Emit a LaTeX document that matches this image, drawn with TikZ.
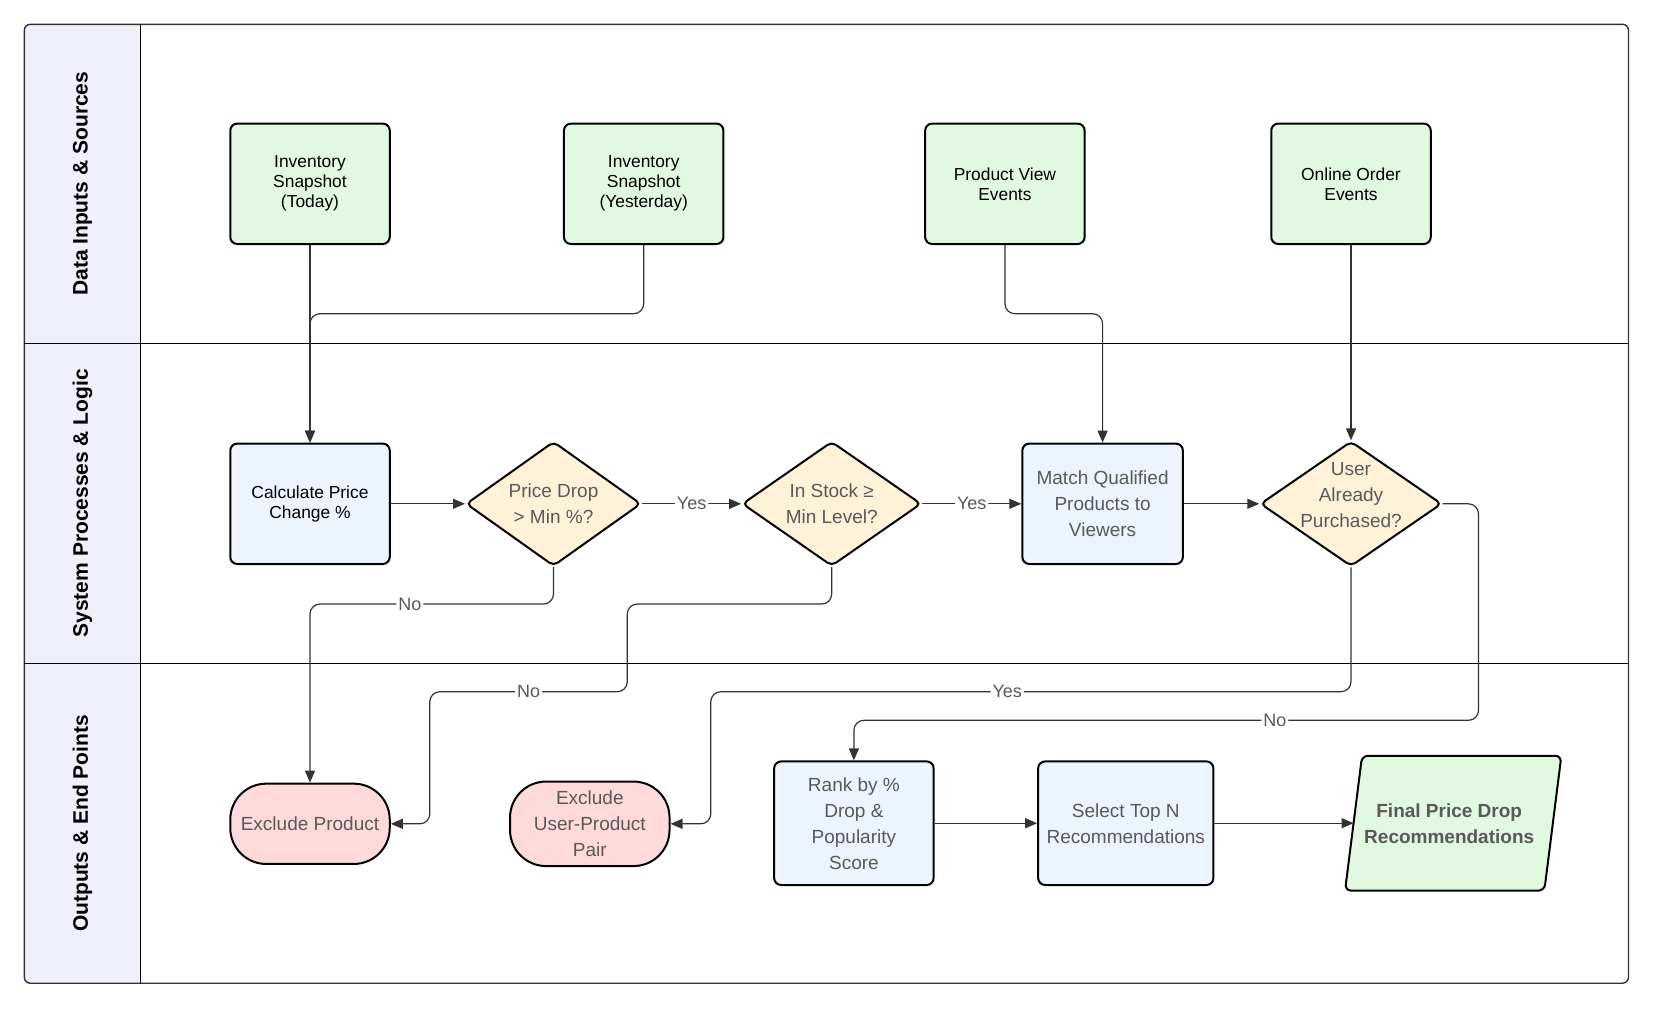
\documentclass[tikz,border=0pt]{standalone}
\usepackage{fontspec}
\setmainfont{Liberation Sans}
\usetikzlibrary{shapes.geometric,arrows.meta,calc,backgrounds}
\definecolor{lanebg}{HTML}{F0F0FC}
\definecolor{grn}{HTML}{E1F8E1}
\definecolor{blu}{HTML}{EBF4FF}
\definecolor{crm}{HTML}{FFF2D9}
\definecolor{pnk}{HTML}{FFDADA}
\definecolor{txtg}{HTML}{595959}
\definecolor{edgec}{HTML}{333333}
\begin{document}
\begin{tikzpicture}[x=0.5pt,y=-0.5pt,
  box/.style={draw=black, line width=1pt, rounded corners=3.5pt, inner sep=2pt, align=center},
  blk/.style={font=\fontsize{8.7}{10}\selectfont, text=black},
  gry/.style={font=\fontsize{9.5}{13}\selectfont, text=txtg},
  srcbox/.style={box, blk, fill=grn, minimum width=79.75pt, minimum height=60.2pt},
  procbox/.style={box, fill=blu},
  dia/.style={diamond, draw=black, line width=1pt, fill=crm, rounded corners=2.5pt, inner sep=0pt},
  endbox/.style={box, gry, fill=pnk, rounded corners=18pt, minimum width=79.75pt},
  lanelbl/.style={rotate=90, font=\fontsize{10.5}{12}\selectfont\bfseries, text=black},
  conn/.style={draw=edgec, line width=0.6pt, rounded corners=5pt, -{Triangle[length=6pt,width=5pt]}},
  lbl/.style={fill=white, inner sep=1pt, font=\fontsize{9}{10}\selectfont, text=txtg}
]
\useasboundingbox (0,0) rectangle (1656,1013);
% lanes
\fill[lanebg, rounded corners=3pt] (24.3,24.3) rectangle (140.5,983.2);
\fill[lanebg] (100,24.3) rectangle (140.5,983.2);
\draw[edgec, line width=0.7pt, rounded corners=3pt] (24.3,24.3) rectangle (1628.5,983.2);
\draw[black, line width=0.7pt] (140.5,24.3) -- (140.5,983.2);
\draw[black, line width=0.7pt] (24.3,343.2) -- (1628.5,343.2);
\draw[black, line width=0.7pt] (24.3,663.2) -- (1628.5,663.2);
\node[lanelbl] (l1) at (82.4,183.8) {Data Inputs \& Sources};
\node[lanelbl] (l2) at (82.4,503.2) {System Processes \& Logic};
\node[lanelbl] (l3) at (82.4,823.4) {Outputs \& End Points};
% row 1
\node[srcbox] (it) at (310,183.8) {Inventory\\Snapshot\\(Today)};
\node[srcbox] (iy) at (643.7,183.8) {Inventory\\Snapshot\\(Yesterday)};
\node[srcbox] (pv) at (1004.9,183.8) {Product View\\Events};
\node[srcbox] (oo) at (1351,183.8) {Online Order\\Events};
% row 2
\node[procbox, blk, minimum width=79.75pt, minimum height=60.2pt] (calc) at (310,503.8) {Calculate Price\\Change \%};
\node[dia, minimum width=87.5pt, minimum height=62.25pt,
  label={[gry, align=center]center:Price Drop\\> Min \%?}] (d1) at (553.5,503.8) {};
\node[dia, minimum width=89.5pt, minimum height=62.25pt,
  label={[gry, align=center]center:In Stock ≥\\Min Level?}] (d2) at (831.7,503.8) {};
\node[procbox, gry, minimum width=80.25pt, minimum height=60.2pt] (match) at (1102.6,503.8) {Match Qualified\\Products to\\Viewers};
\node[dia, minimum width=90.7pt, minimum height=62.5pt,
  label={[gry, align=center, yshift=4.5pt]center:User\\Already\\Purchased?}] (d3) at (1351,503.8) {};
% row 3
\node[endbox, minimum height=40.15pt] (exP) at (310,823.8) {Exclude Product};
\node[endbox, minimum height=42.25pt] (exU) at (589.8,823.8) {Exclude\\User-Product\\Pair};
\node[procbox, gry, minimum width=79.75pt, minimum height=61.8pt] (rank) at (853.9,823.2) {Rank by \%\\Drop \&\\Popularity\\Score};
\node[procbox, gry, minimum width=87.65pt, minimum height=61.8pt] (sel) at (1125.8,823.2) {Select Top N\\Recommendations};
\node[gry, font=\fontsize{9.5}{13}\selectfont\bfseries, align=center, minimum width=99.25pt, minimum height=67pt, inner sep=0pt] (fin) at (1453.2,823.2) {\hspace*{-4pt}Final Price Drop\\\hspace*{-4pt}Recommendations};
\begin{scope}[on background layer]
\draw[black, line width=1pt, fill=grn, rounded corners=3pt]
  ($(fin.north west)+(8.5,0)$) -- ($(fin.north east)+(8.5,0)$) -- ($(fin.south east)+(-8.5,0)$) -- ($(fin.south west)+(-8.5,0)$) -- cycle;
\end{scope}
% bend levels
\coordinate (r1) at (0,313.7);
\coordinate (r2) at (0,604);
\coordinate (r3) at (0,691.7);
\coordinate (r4) at (0,720.3);
% connectors
\draw[conn] (it.south) -- (calc.north);
\draw[conn] (iy.south) -- (iy.south |- r1) -- (calc.north |- r1) -- (calc.north);
\draw[conn] (pv.south) -- (pv.south |- r1) -- (match.north |- r1) -- (match.north);
\draw[conn] (oo.south) -- (d3.north);
\draw[conn] (calc.east) -- (d1.west);
\draw[conn] (d1.east) -- node[lbl]{Yes} (d2.west);
\draw[conn] (d2.east) -- node[lbl]{Yes} (match.west);
\draw[conn] (match.east) -- (d3.west);
\draw[conn] (d1.south) -- (d1.south |- r2) -- node[lbl,pos=0.59]{No} (exP.north |- r2) -- (exP.north);
\draw[conn] (d2.south) -- (d2.south |- r2) -- (627.3,604) -- (627.3,691.7) -- node[lbl,pos=0.5]{No} (429.8,691.7) -- (429.8,823.8) -- (exP.east);
\draw[conn] (d3.south) -- (d3.south |- r3) -- node[lbl,pos=0.537]{Yes} (710.8,691.7) -- (710.8,823.8) -- (exU.east);
\draw[conn] (d3.east) -- (1478.5,503.8) -- (1478.5,720.3) -- node[lbl,pos=0.326]{No} (rank.north |- r4) -- (rank.north);
\draw[conn] (rank.east) -- (sel.west);
\draw[conn] (sel.east) -- (fin.west);
\end{tikzpicture}
\end{document}
